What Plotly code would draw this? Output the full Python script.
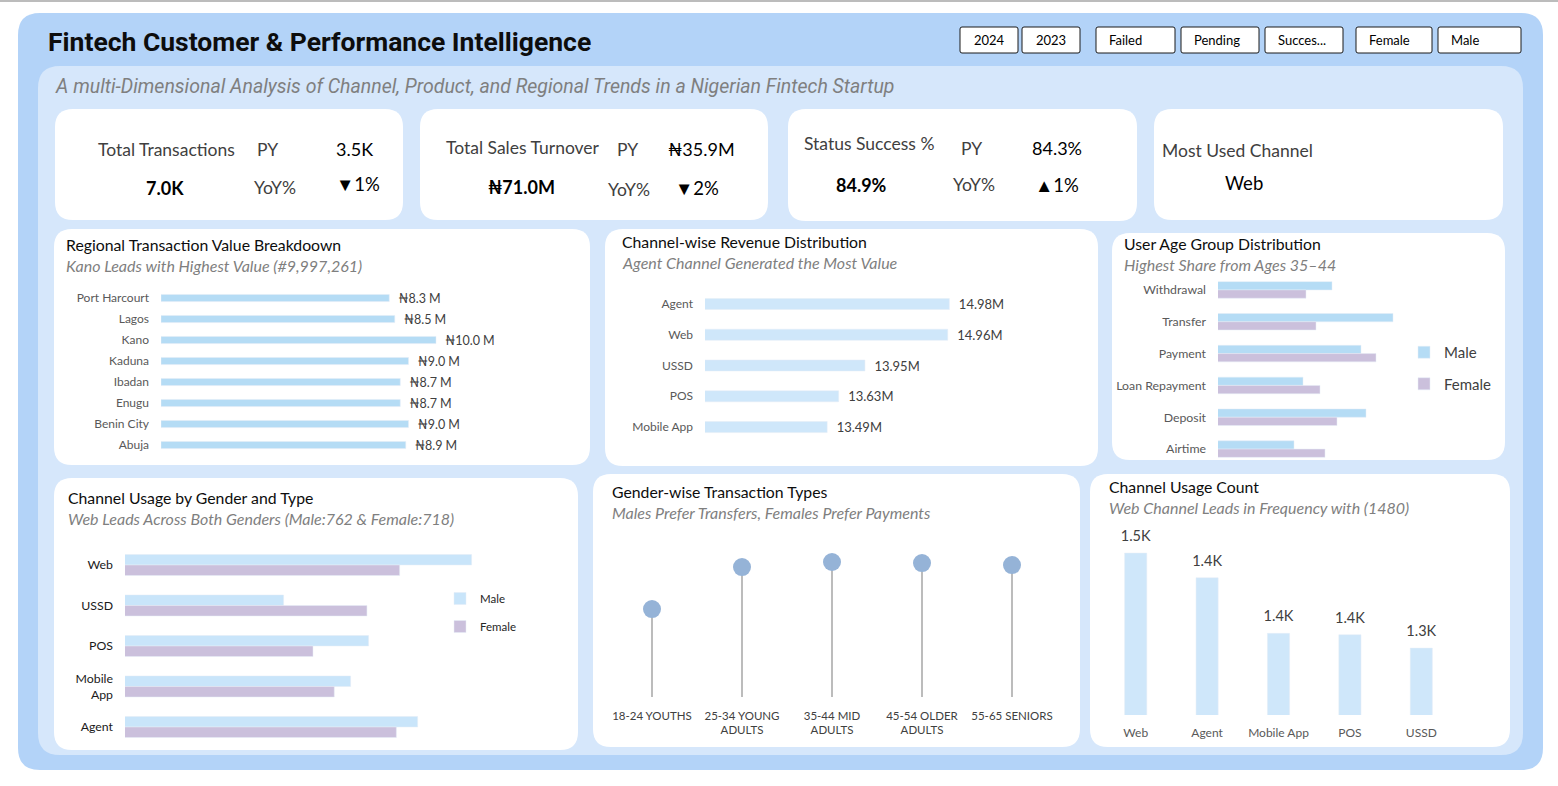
import plotly.graph_objects as go

W, H = 1558, 786

# ---------------- data ----------------
regions = ["Port Harcourt", "Lagos", "Kano", "Kaduna", "Ibadan", "Enugu", "Benin City", "Abuja"]
region_values_m = [8.3, 8.5, 10.0, 9.0, 8.7, 8.7, 9.0, 8.9]

rev_channels = ["Agent", "Web", "USSD", "POS", "Mobile App"]
rev_values_m = [14.98, 14.96, 13.95, 13.63, 13.49]

txn_types = ["Withdrawal", "Transfer", "Payment", "Loan Repayment", "Deposit", "Airtime"]
txn_male = [574, 635, 603, 545, 608, 536]
txn_female = [548, 558, 618, 562, 579, 567]

gender_channels = ["Web", "USSD", "POS", "Mobile<br>App", "Agent"]
gender_male = [762, 647, 699, 688, 729]
gender_female = [718, 698, 665, 678, 716]

age_groups = ["18-24 YOUTHS", "25-34 YOUNG<br>ADULTS", "35-44 MID<br>ADULTS",
              "45-54 OLDER<br>ADULTS", "55-65 SENIORS"]
age_counts = [995, 1470, 1527, 1515, 1493]

usage_channels = ["Web", "Agent", "Mobile App", "POS", "USSD"]
usage_counts = [1480, 1445, 1366, 1364, 1345]

slicers = ["2024", "2023", "Failed", "Pending", "Succes...", "Female", "Male"]

# ---------------- styling ----------------
C_OUTER = "#b3d3f8"
C_INNER = "#d6e7fb"
C_BAR = "#b5dcf5"
C_BAR2 = "#cfe7fa"
C_MALE = "#c9e5fa"
C_MALE2 = "#b5dcf5"
C_FEMALE = "#cbc0dc"
C_DOT = "#95b3d7"
C_STEM = "#a6a6a6"
F_CARD = "Lato, 'Open Sans', sans-serif"
F_KPI = "Lato, sans-serif"
F_HEAD = "Roboto, sans-serif"


def X(x):
    return x / W


def Y(y):
    return 1 - y / H


def rrect(x0, y0, x1, y1, r, fill, line=None):
    p = (f"M {X(x0 + r)},{Y(y0)} L {X(x1 - r)},{Y(y0)} Q {X(x1)},{Y(y0)} {X(x1)},{Y(y0 + r)} "
         f"L {X(x1)},{Y(y1 - r)} Q {X(x1)},{Y(y1)} {X(x1 - r)},{Y(y1)} "
         f"L {X(x0 + r)},{Y(y1)} Q {X(x0)},{Y(y1)} {X(x0)},{Y(y1 - r)} "
         f"L {X(x0)},{Y(y0 + r)} Q {X(x0)},{Y(y0)} {X(x0 + r)},{Y(y0)} Z")
    return dict(type="path", path=p, xref="paper", yref="paper", fillcolor=fill,
                line=dict(width=1 if line else 0, color=line or fill), layer="below")


shapes = []
annotations = []


def ann(text, x, y, size, color="#000000", family=F_CARD, xanchor="left", yanchor="middle"):
    annotations.append(dict(text=text, x=X(x), y=Y(y), xref="paper", yref="paper",
                            showarrow=False, xanchor=xanchor, yanchor=yanchor, borderpad=0,
                            font=dict(size=size, color=color, family=family)))


# background frames
shapes.append(dict(type="line", x0=0, x1=1, y0=Y(1), y1=Y(1), xref="paper", yref="paper",
                   line=dict(color="#a6a6a6", width=1.5), layer="below"))
shapes.append(rrect(18, 13, 1543, 770, 22, C_OUTER))
shapes.append(rrect(38, 66, 1523, 755, 22, C_INNER))

cards = [
    (55, 109, 403, 220), (420, 109, 768, 220), (788, 109, 1137, 221), (1154, 109, 1503, 220),
    (54, 229, 590, 465), (605, 229, 1098, 466), (1112, 233, 1505, 460),
    (54, 478, 578, 750), (593, 474, 1080, 747), (1090, 474, 1510, 747),
]
for c in cards:
    shapes.append(rrect(*c, 18, "#ffffff"))

# slicer buttons
slicer_pos = [(960, 1018), (1022, 1080), (1096, 1175), (1181, 1259), (1265, 1343), (1356, 1432), (1438, 1521)]
for (x0, x1), lab in zip(slicer_pos, slicers):
    shapes.append(rrect(x0, 27, x1, 53, 2, "#ffffff", "#1a1a1a"))
    if lab in ("2024", "2023"):
        ann(lab, (x0 + x1) / 2, 40, 13, "#000000", F_CARD, xanchor="center")
    else:
        ann(lab, x0 + 12, 40, 13, "#000000", F_CARD)

# header
ann("<b>Fintech Customer & Performance Intelligence</b>", 47, 42, 26.5, "#0d0d0d", F_HEAD)
ann("<i>A multi-Dimensional Analysis of Channel, Product, and Regional Trends in a Nigerian Fintech Startup</i>",
    54, 86, 19.5, "#7f7f7f", F_HEAD)

# KPI cards
G = "#404040"
ann("Total Transactions", 97, 149, 17.5, G, F_KPI)
ann("PY", 256, 149, 17.5, G, F_KPI)
ann("3.5K", 335, 149, 18, "#000000", F_KPI)
ann("<b>7.0K</b>", 145, 188, 18, "#000000", F_KPI)
ann("YoY%", 253, 187, 17.5, G, F_KPI)
ann("▼1%", 335, 184, 18.5, "#000000", F_KPI)

ann("Total Sales Turnover", 445, 147, 17.5, G, F_KPI)
ann("PY", 616, 149, 17.5, G, F_KPI)
ann("₦35.9M", 667, 149, 18, "#000000", F_KPI)
ann("<b>₦71.0M</b>", 487, 187, 18, "#000000", F_KPI)
ann("YoY%", 607, 189, 17.5, G, F_KPI)
ann("▼2%", 674, 188, 18.5, "#000000", F_KPI)

ann("Status Success %", 803, 144, 17.5, G, F_KPI)
ann("PY", 960, 148, 17.5, G, F_KPI)
ann("84.3%", 1031, 148, 18, "#000000", F_KPI)
ann("<b>84.9%</b>", 835, 185, 18, "#000000", F_KPI)
ann("YoY%", 952, 185, 17.5, G, F_KPI)
ann("▲1%", 1034, 185, 18.5, "#000000", F_KPI)

ann("Most Used Channel", 1161, 151, 17.5, G, F_KPI)
ann("Web", 1224, 183, 18.5, "#000000", F_KPI)

# chart titles
TT = "#0d0d0d"
ST = "#7f7f7f"
titles = [
    ("Regional Transaction Value Breakdoown", "Kano Leads with Highest Value (#9,997,261)", 65, 244.5),
    ("Channel-wise Revenue Distribution", "Agent Channel Generated the Most Value", 621, 241.5),
    ("User Age Group Distribution", "Highest Share from Ages 35–44", 1123, 243.5),
    ("Channel Usage by Gender and Type", "Web Leads Across Both Genders (Male:762 & Female:718)", 67, 497.5),
    ("Gender-wise Transaction Types", "Males Prefer Transfers, Females Prefer Payments", 611, 491.5),
    ("Channel Usage Count", "Web Channel Leads in Frequency with (1480)", 1108, 486.5),
]
for t, s, x, y in titles:
    ann(t, x, y, 15.8, TT)
    ann(f"<i>{s}</i>", x, y + 21, 16, ST)

fig = go.Figure()

# 1 Regional
fig.add_trace(go.Bar(
    y=regions, x=region_values_m, orientation="h", width=0.34, marker_color=C_BAR,
    text=["\u2002₦{:.1f} M".format(v) for v in region_values_m], textposition="outside",
    constraintext="none",
    textfont=dict(size=12.5, color="#404040", family=F_CARD), cliponaxis=False,
    xaxis="x", yaxis="y", showlegend=False))

# 2 Revenue
fig.add_trace(go.Bar(
    y=rev_channels, x=rev_values_m, orientation="h", width=0.36, marker_color=C_BAR2,
    text=["\u2002{:.2f}M".format(v) for v in rev_values_m], textposition="outside",
    constraintext="none",
    textfont=dict(size=13, color="#404040", family=F_CARD), cliponaxis=True,
    xaxis="x2", yaxis="y2", showlegend=False))

# 3 Transaction types by gender
fig.add_trace(go.Bar(
    y=txn_types, x=txn_male, orientation="h", width=0.26, offset=-0.26, marker_color=C_MALE2,
    name="Male", xaxis="x3", yaxis="y3", legend="legend2", legendgroup="m3"))
fig.add_trace(go.Bar(
    y=txn_types, x=txn_female, orientation="h", width=0.26, offset=0.0, marker_color=C_FEMALE,
    name="Female", xaxis="x3", yaxis="y3", legend="legend2", legendgroup="f3"))

# 4 Channel usage by gender
fig.add_trace(go.Bar(
    y=gender_channels, x=gender_male, orientation="h", width=0.26, offset=-0.26, marker_color=C_MALE,
    name="Male", xaxis="x4", yaxis="y4", legend="legend", legendgroup="m4"))
fig.add_trace(go.Bar(
    y=gender_channels, x=gender_female, orientation="h", width=0.26, offset=0.0, marker_color=C_FEMALE,
    name="Female", xaxis="x4", yaxis="y4", legend="legend", legendgroup="f4"))

# 5 Lollipop
stem_x, stem_y = [], []
for g, v in zip(age_groups, age_counts):
    stem_x += [g, g, None]
    stem_y += [0, v, None]
fig.add_trace(go.Scatter(x=stem_x, y=stem_y, mode="lines", line=dict(color=C_STEM, width=1.5),
                         xaxis="x5", yaxis="y5", showlegend=False, hoverinfo="skip"))
fig.add_trace(go.Scatter(x=age_groups, y=age_counts, mode="markers", marker=dict(size=18, color=C_DOT),
                         xaxis="x5", yaxis="y5", showlegend=False, cliponaxis=False))

# 6 Usage count
fig.add_trace(go.Bar(x=usage_channels, y=usage_counts, width=0.31, marker_color=C_BAR2,
                     xaxis="x6", yaxis="y6", showlegend=False))
fig.add_trace(go.Scatter(x=usage_channels, y=usage_counts, mode="markers+text",
                         marker=dict(size=12, opacity=0),
                         text=["{:.1f}K".format(round(v / 100) / 10) for v in usage_counts],
                         textposition="top center", cliponaxis=False,
                         textfont=dict(size=14.5, color="#404040", family=F_CARD),
                         xaxis="x6", yaxis="y6", showlegend=False, hoverinfo="skip"))


def xdom(a, b):
    return [X(a), X(b)]


def ydom(top, bottom):
    return [Y(bottom), Y(top)]


hide = dict(showgrid=False, zeroline=False, showline=False, showticklabels=False, ticks="")
cat_y = dict(showgrid=False, zeroline=False, showline=False, autorange="reversed", ticks="",
             ticklabelstandoff=11, type="category")

fig.update_layout(
    width=W, height=H, margin=dict(l=0, r=0, t=0, b=0, pad=0, autoexpand=False),
    autosize=False,
    paper_bgcolor="#ffffff", plot_bgcolor="rgba(0,0,0,0)",
    barmode="overlay", shapes=shapes, annotations=annotations,
    xaxis=dict(domain=xdom(161, 546), range=[0, 14], **hide),
    yaxis=dict(domain=ydom(287.5, 455.5), anchor="x", tickfont=dict(size=12, color="#595959", family=F_CARD), **cat_y),
    xaxis2=dict(domain=xdom(705, 1033), range=[12, 16], anchor="y2", **hide),
    yaxis2=dict(domain=ydom(288.6, 442.4), anchor="x2", tickfont=dict(size=12, color="#595959", family=F_CARD), **cat_y),
    xaxis3=dict(domain=xdom(1218, 1408), range=[460, 650], anchor="y3", **hide),
    yaxis3=dict(domain=ydom(274, 465), anchor="x3", tickfont=dict(size=12.3, color="#595959", family=F_CARD), **cat_y),
    xaxis4=dict(domain=xdom(125, 501), range=[550, 780], anchor="y4", **hide),
    yaxis4=dict(domain=ydom(544.75, 747.25), anchor="x4", tickfont=dict(size=12.3, color="#1a1a1a", family=F_CARD), **cat_y),
    xaxis5=dict(domain=xdom(607, 1057), range=[-0.5, 4.5], anchor="y5", showgrid=False, zeroline=False,
                showline=False, ticks="", ticklabelstandoff=10, type="category",
                tickfont=dict(size=11.5, color="#404040", family=F_CARD)),
    yaxis5=dict(domain=ydom(540, 697), range=[0, 1776], anchor="x5", **hide),
    xaxis6=dict(domain=xdom(1100, 1457), range=[-0.5, 4.5], anchor="y6", showgrid=False, zeroline=False,
                showline=False, ticks="", ticklabelstandoff=9, type="category",
                tickfont=dict(size=12, color="#595959", family=F_CARD)),
    yaxis6=dict(domain=ydom(535, 715), range=[1250, 1505.7], anchor="x6", **hide),
    legend=dict(x=X(440), y=Y(584), xanchor="left", yanchor="top", bgcolor="rgba(0,0,0,0)",
                font=dict(size=11.5, color="#262626", family=F_CARD), traceorder="grouped",
                tracegroupgap=9, itemwidth=30),
    legend2=dict(x=X(1404), y=Y(336), xanchor="left", yanchor="top", bgcolor="rgba(0,0,0,0)",
                 font=dict(size=15, color="#404040", family=F_CARD), traceorder="grouped",
                 tracegroupgap=9, itemwidth=30),
    hovermode=False,
)

fig.write_html("out.html")
